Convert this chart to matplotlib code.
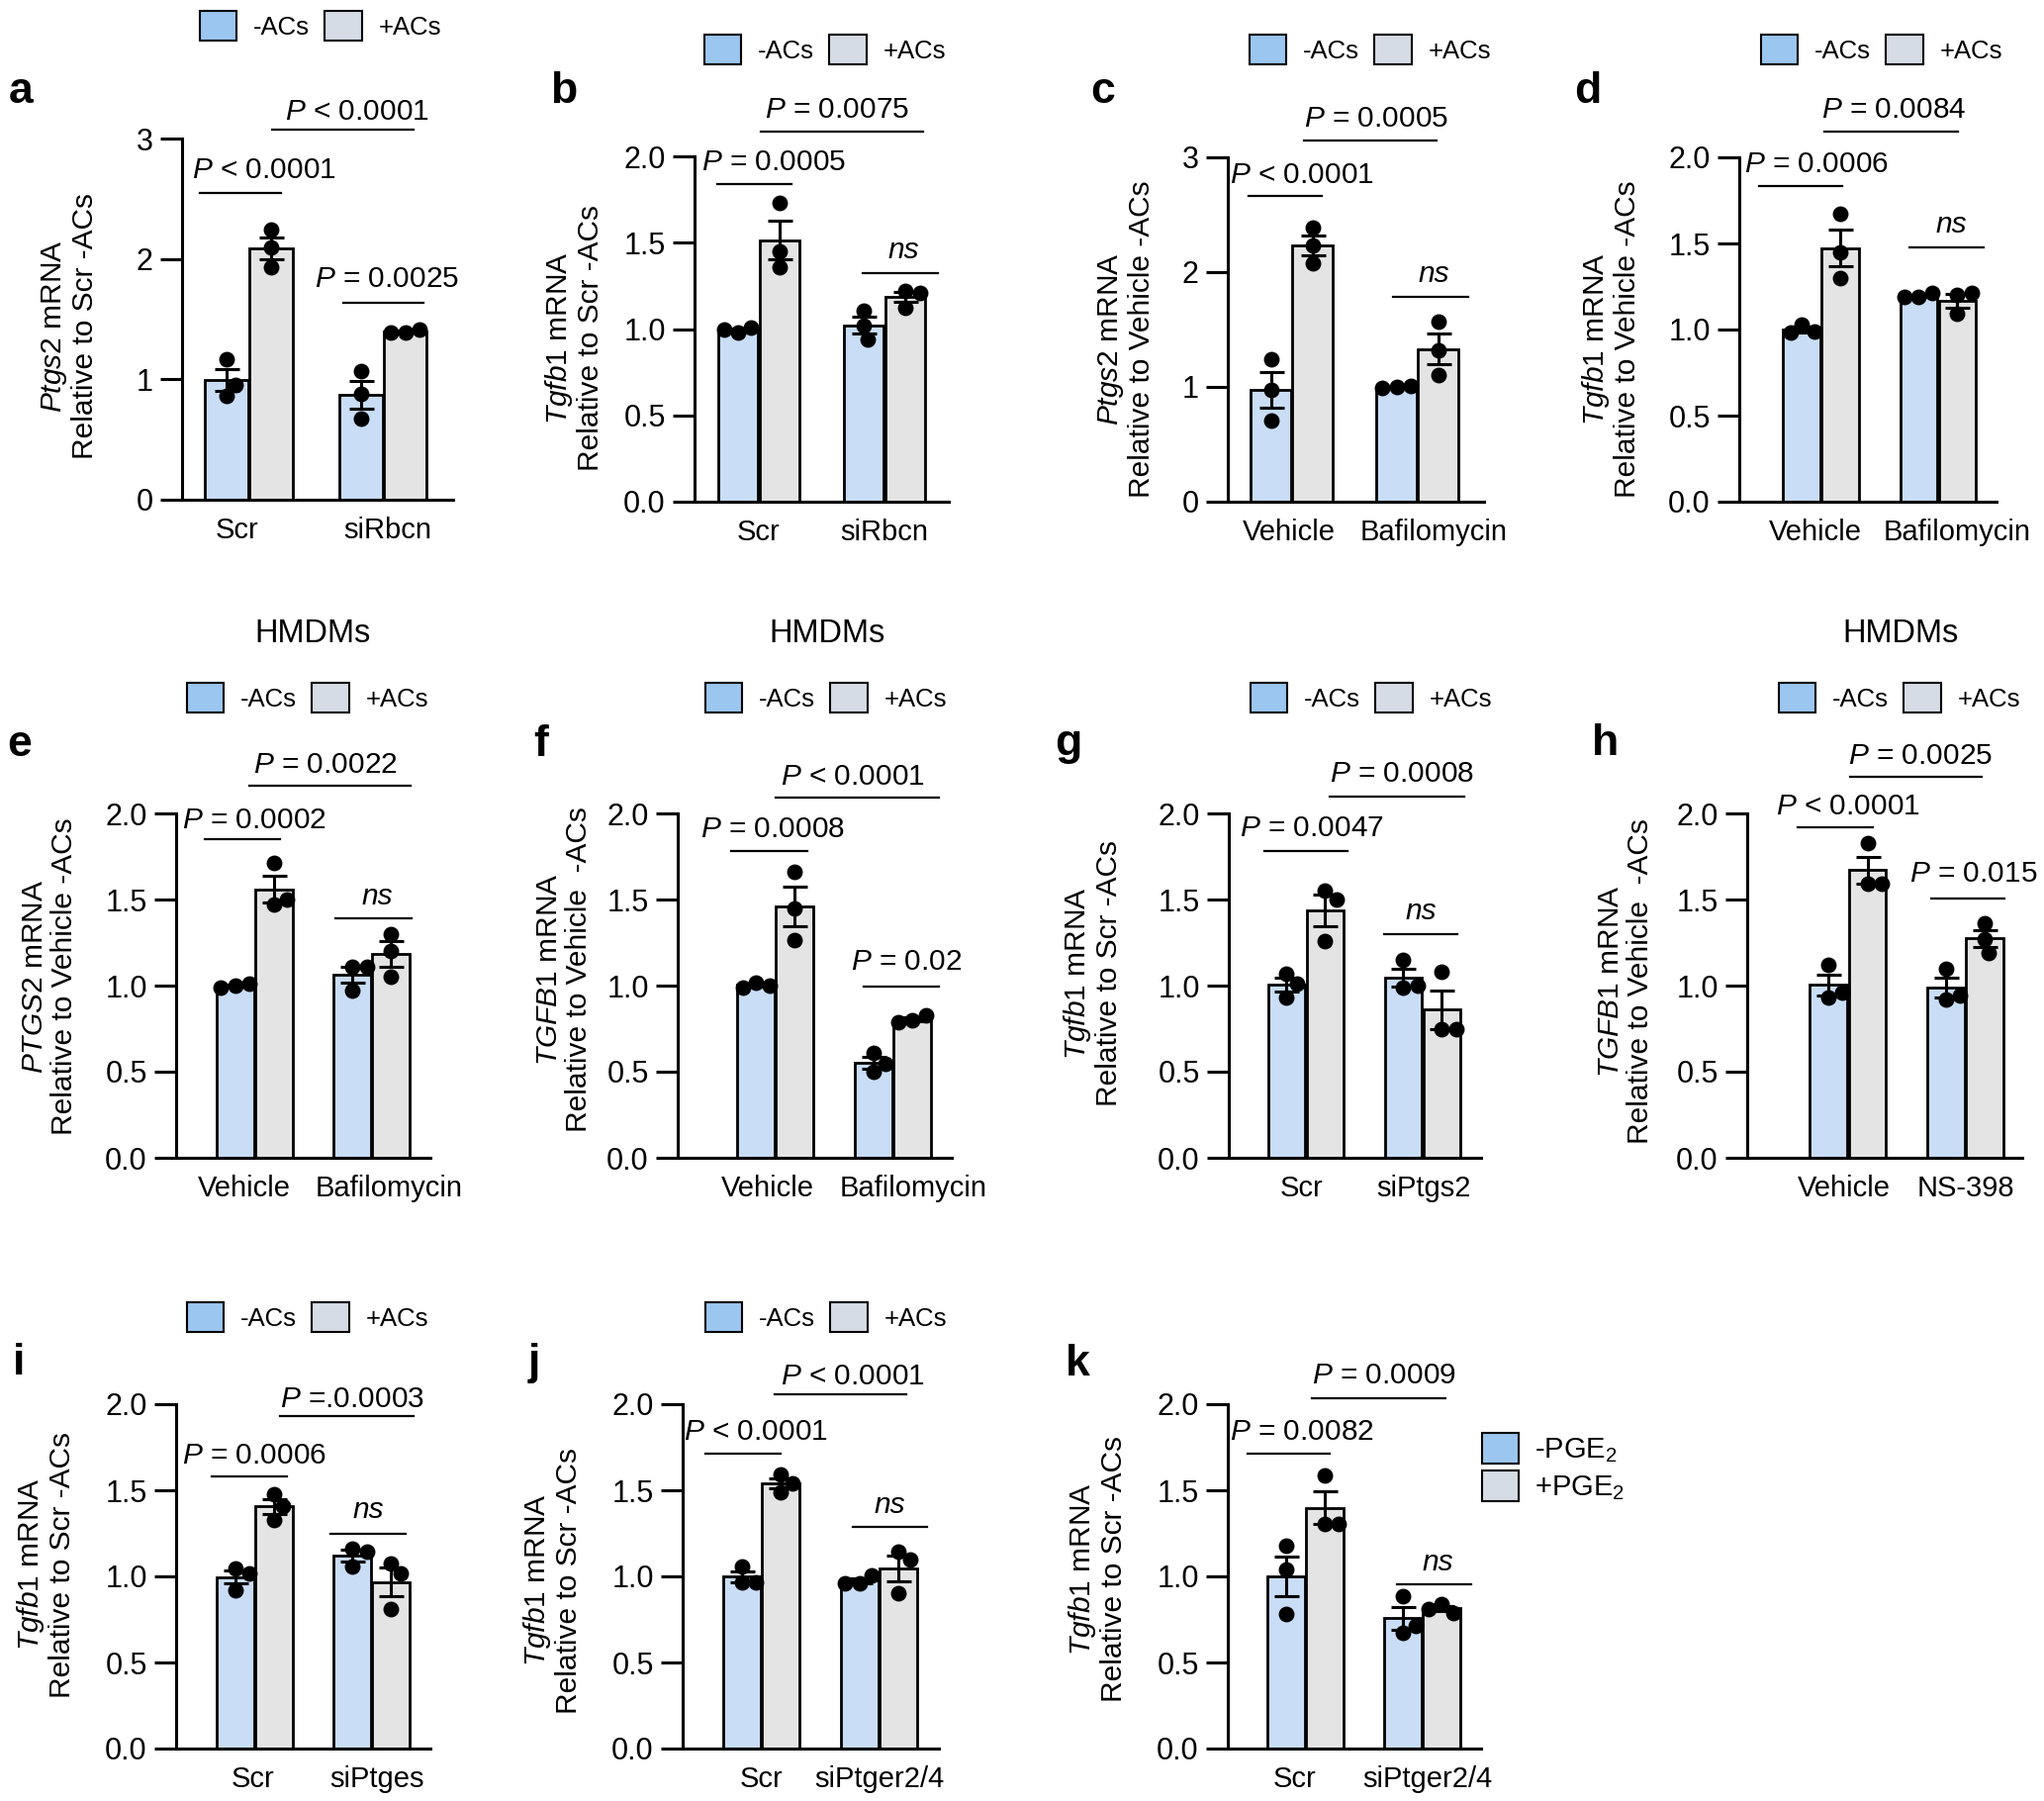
import math
import matplotlib
matplotlib.use("Agg")
import matplotlib.pyplot as plt
from matplotlib.patches import Patch
from matplotlib.lines import Line2D
import numpy as np

plt.rcParams['font.family'] = ['Liberation Sans', 'DejaVu Sans']
plt.rcParams['mathtext.fontset'] = 'custom'
plt.rcParams['mathtext.rm'] = 'Liberation Sans'
plt.rcParams['mathtext.it'] = 'Liberation Sans:italic'
plt.rcParams['mathtext.bf'] = 'Liberation Sans:bold'

# ---------------- data ----------------
a_categories = ["Scr", "siRbcn"]
a_neg = [[1.17, 0.86, 0.95], [1.07, 0.88, 0.67]]
a_pos = [[2.24, 2.10, 1.93], [1.39, 1.41, 1.39]]

b_categories = ["Scr", "siRbcn"]
b_neg = [[0.98, 1.01, 1.00], [1.105, 1.02, 0.94]]
b_pos = [[1.73, 1.45, 1.36], [1.22, 1.21, 1.125]]

c_categories = ["Vehicle", "Bafilomycin"]
c_neg = [[1.24, 0.97, 0.71], [1.00, 1.01, 0.99]]
c_pos = [[2.39, 2.23, 2.08], [1.57, 1.32, 1.10]]

d_categories = ["Vehicle", "Bafilomycin"]
d_neg = [[1.03, 0.99, 0.98], [1.19, 1.21, 1.19]]
d_pos = [[1.67, 1.45, 1.30], [1.20, 1.21, 1.09]]

e_categories = ["Vehicle", "Bafilomycin"]
e_neg = [[1.00, 1.01, 0.99], [1.11, 1.11, 0.97]]
e_pos = [[1.71, 1.47, 1.50], [1.30, 1.20, 1.05]]

f_categories = ["Vehicle", "Bafilomycin"]
f_neg = [[1.02, 1.00, 0.99], [0.61, 0.50, 0.545]]
f_pos = [[1.66, 1.45, 1.265], [0.80, 0.83, 0.79]]

g_categories = ["Scr", "siPtgs2"]
g_neg = [[1.07, 1.01, 0.93], [1.15, 0.99, 1.00]]
g_pos = [[1.55, 1.50, 1.26], [1.08, 0.75, 0.75]]

h_categories = ["Vehicle", "NS-398"]
h_neg = [[1.12, 0.93, 0.96], [1.10, 0.92, 0.94]]
h_pos = [[1.83, 1.59, 1.59], [1.36, 1.27, 1.19]]

i_categories = ["Scr", "siPtges"]
i_neg = [[1.047, 1.02, 0.92], [1.16, 1.146, 1.057]]
i_pos = [[1.477, 1.41, 1.33], [1.077, 1.017, 0.81]]

j_categories = ["Scr", "siPtger2/4"]
j_neg = [[1.057, 0.968, 0.968], [0.96, 1.007, 0.958]]
j_pos = [[1.59, 1.49, 1.54], [1.146, 1.098, 0.90]]

k_categories = ["Scr", "siPtger2/4"]
k_neg = [[1.18, 1.04, 0.78], [0.883, 0.673, 0.713]]
k_pos = [[1.587, 1.305, 1.305], [0.84, 0.79, 0.81]]

ac_labels = ["-ACs", "+ACs"]
pge_labels = ["-PGE$_2$", "+PGE$_2$"]

# ---------------- layout / style ----------------
W, H = 2066, 1820
BAR_NEG = "#C9DDF7"
BAR_POS = "#E4E4E4"
LEG_NEG = "#9BC6EF"
LEG_POS = "#D6DCE5"
BAR_W = 0.32
OFF = 0.165
DOT_PX = 14.5
P_FS = 21.5
LEG_FS = 18.5

fig = plt.figure(figsize=(W / 100, H / 100), dpi=100)


def fx(x):
    return x / W


def fy(y):
    return 1 - y / H


def swarm(vals, ppx, ppy, d):
    placed = []
    out = []
    for v in vals:
        y = v * ppy
        cands = [0.0]
        for (px, py) in placed:
            dy = abs(y - py)
            if dy < d:
                s = math.sqrt(d * d - dy * dy)
                cands += [px + s, px - s]
        cands.sort(key=abs)
        chosen = cands[-1]
        for c in cands:
            if all((c - px) ** 2 + (y - py) ** 2 >= d * d * 0.999 for px, py in placed):
                chosen = c
                break
        placed.append((chosen, y))
        out.append(chosen / ppx)
    return out


def panel(key, cats, neg, pos, ymax, box, xlim, gene, rel, ylab_xy,
          legend_xy, letter_xy, brackets, label_shift=(0, 0),
          legend_labels=ac_labels, legend_vertical=False, title_xy=None):
    left, right, top, bottom = box
    ax = fig.add_axes([fx(left), fy(bottom), (right - left) / W, (bottom - top) / H])
    ax.set_xlim(*xlim)
    ax.set_ylim(0, ymax)
    ppx = (right - left) / (xlim[1] - xlim[0])
    ppy = (bottom - top) / ymax
    groups = np.arange(len(cats))
    for series, off, col in ((neg, -OFF, BAR_NEG), (pos, OFF, BAR_POS)):
        means = [np.mean(s) for s in series]
        sems = [np.std(s, ddof=1) / np.sqrt(len(s)) for s in series]
        xs = groups + off
        ax.bar(xs, means, width=BAR_W, color=col, edgecolor='black',
               linewidth=2.0, zorder=2)
        ax.errorbar(xs, means, yerr=sems, fmt='none', ecolor='black',
                    elinewidth=2.2, capsize=9, capthick=2.2, zorder=3)
        for xc, s in zip(xs, series):
            dx = swarm(s, ppx, ppy, DOT_PX)
            ax.plot(xc + np.array(dx), s, 'o', color='black',
                    markersize=DOT_PX / 1.389, zorder=4, clip_on=False)
    for sp in ('top', 'right'):
        ax.spines[sp].set_visible(False)
    for sp in ('left', 'bottom'):
        ax.spines[sp].set_linewidth(2.2)
    if ymax == 3:
        yt = [0, 1, 2, 3]
        ax.set_yticks(yt)
        ax.set_yticklabels([str(t) for t in yt])
    else:
        yt = [0.0, 0.5, 1.0, 1.5, 2.0]
        ax.set_yticks(yt)
        ax.set_yticklabels(["%.1f" % t for t in yt])
    ax.tick_params(axis='y', length=16, width=2.2, pad=5, labelsize=22)
    # category labels (no tick marks; nudged apart like the original)
    ax.set_xticks(groups + np.array(label_shift) / ppx)
    ax.set_xticklabels(cats)
    ax.tick_params(axis='x', length=0, pad=12, labelsize=21)

    # y label
    fig.text(fx(ylab_xy[0]), fy(ylab_xy[1]),
             r"$\it{%s}$ mRNA" % gene + "\n" + rel,
             rotation=90, ha='center', va='center', fontsize=21.5,
             multialignment='center', linespacing=1.05)
    # legend
    handles = [Patch(facecolor=LEG_NEG, edgecolor='black', linewidth=1.5, label=legend_labels[0]),
               Patch(facecolor=LEG_POS, edgecolor='black', linewidth=1.5, label=legend_labels[1])]
    if legend_vertical:
        fig.legend(handles=handles, loc='center left',
                   bbox_to_anchor=(fx(legend_xy[0]), fy(legend_xy[1])),
                   ncol=1, frameon=False, fontsize=21,
                   handlelength=1.27, handleheight=1.27, handletextpad=0.55,
                   labelspacing=0.22, borderpad=0, borderaxespad=0)
    else:
        fig.legend(handles=handles, loc='center left',
                   bbox_to_anchor=(fx(legend_xy[0]), fy(legend_xy[1])),
                   ncol=2, frameon=False, fontsize=LEG_FS,
                   handlelength=1.45, handleheight=1.45, handletextpad=0.65,
                   columnspacing=0.6, borderpad=0, borderaxespad=0)
    # letter
    fig.text(fx(letter_xy[0]), fy(letter_xy[1]), key, fontsize=32,
             fontweight='bold', va='baseline', ha='left')
    if title_xy is not None:
        fig.text(fx(title_xy[0]), fy(title_xy[1]), "HMDMs", ha='center',
                 va='center', fontsize=23.5)
    # significance brackets (figure pixel coordinates)
    for (x0, x1, ly, txt, tx, ty) in brackets:
        fig.add_artist(Line2D([fx(x0), fx(x1)], [fy(ly), fy(ly)],
                              transform=fig.transFigure, color='black', lw=1.6))
        if txt == "ns":
            fig.text(fx(tx), fy(ty + 8), "ns", ha='center', va='baseline',
                     fontsize=P_FS, style='italic')
        else:
            rest = txt[1:]
            fig.text(fx(tx), fy(ty + 10), r"$\it{P}$" + rest, ha='center',
                     va='baseline', fontsize=P_FS)
    return ax


panel('a', a_categories, a_neg, a_pos, 3, (184, 458, 140, 505), (-0.496, 1.52),
      'Ptgs2', 'Relative to Scr -ACs', (70, 330), (202, 26), (9, 104),
      [(275, 418, 131, "P < 0.0001", 361, 111),
       (202, 284, 195, "P < 0.0001", 267, 170),
       (347, 428, 306, "P = 0.0025", 391, 280)], label_shift=(-12, 4))

panel('b', b_categories, b_neg, b_pos, 2, (702, 959, 158, 507), (-0.51, 1.51),
      'Tgfb1', 'Relative to Scr -ACs', (580, 342), (712, 50), (556, 104),
      [(769, 933, 133, "P = 0.0075", 846, 109),
       (725, 800, 186, "P = 0.0005", 782, 162),
       (872, 948, 276, "ns", 913, 253)])

panel('c', c_categories, c_neg, c_pos, 3, (1241, 1500, 159, 507), (-0.51, 1.53),
      'Ptgs2', 'Relative to Vehicle -ACs', (1138, 343), (1263, 50), (1102, 104),
      [(1318, 1452, 142, "P = 0.0005", 1391, 118),
       (1262, 1336, 198, "P < 0.0001", 1316, 175),
       (1408, 1484, 300, "ns", 1449, 277)], label_shift=(-3, 16))

panel('d', d_categories, d_neg, d_pos, 2, (1758, 2018, 159, 507), (-0.70, 1.50),
      'Tgfb1', 'Relative to Vehicle -ACs', (1628, 343), (1780, 50), (1591, 104),
      [(1844, 1979, 133, "P = 0.0084", 1914, 109),
       (1778, 1862, 188, "P = 0.0006", 1836, 164),
       (1930, 2005, 250, "ns", 1972, 227)], label_shift=(-6, 19))

panel('e', e_categories, e_neg, e_pos, 2, (178, 435, 822, 1170), (-0.67, 1.50),
      'PTGS2', 'Relative to Vehicle -ACs', (50, 987), (189, 705), (7, 764),
      [(252, 415, 794, "P = 0.0022", 329, 771),
       (207, 283, 848, "P = 0.0002", 257, 827),
       (339, 416, 928, "ns", 381, 906)], label_shift=(-10, 17),
      title_xy=(316, 640))

panel('f', f_categories, f_neg, f_pos, 2, (685, 962, 822, 1170), (-0.83, 1.50),
      'TGFB1', 'Relative to Vehicle  -ACs', (570, 980), (713, 705), (539, 764),
      [(784, 949, 806, "P < 0.0001", 862, 783),
       (739, 816, 860, "P = 0.0008", 781, 836),
       (873, 949, 997, "P = 0.02", 916, 970)], label_shift=(-8, 21),
      title_xy=(836, 640))

panel('g', g_categories, g_neg, g_pos, 2, (1242, 1497, 822, 1170), (-0.66, 1.50),
      'Tgfb1', 'Relative to Scr -ACs', (1104, 984), (1264, 705), (1066, 763),
      [(1344, 1480, 805, "P = 0.0008", 1417, 780),
       (1278, 1362, 860, "P = 0.0047", 1326, 835),
       (1399, 1473, 944, "ns", 1436, 921)], label_shift=(-4, 1))

panel('h', h_categories, h_neg, h_pos, 2, (1766, 2044, 822, 1170), (-0.86, 1.485),
      'TGFB1', 'Relative to Vehicle  -ACs', (1643, 992), (1798, 705), (1609, 763),
      [(1870, 2003, 785, "P = 0.0025", 1941, 762),
       (1817, 1893, 836, "P < 0.0001", 1868, 813),
       (1952, 2026, 908, "P = 0.015", 1995, 881)], label_shift=(-4, 0),
      title_xy=(1921, 640))

panel('i', i_categories, i_neg, i_pos, 2, (178, 435, 1419, 1767), (-0.67, 1.50),
      'Tgfb1', 'Relative to Scr -ACs', (46, 1581), (189, 1331), (13, 1389),
      [(283, 418, 1431, "P =.0.0003", 356, 1412),
       (214, 290, 1492, "P = 0.0006", 257, 1469),
       (334, 410, 1550, "ns", 372, 1526)], label_shift=(-2, 5))

panel('j', j_categories, j_neg, j_pos, 2, (690, 949, 1419, 1767), (-0.665, 1.506),
      'Tgfb1', 'Relative to Scr -ACs', (558, 1597), (713, 1331), (534, 1389),
      [(783, 916, 1409, "P < 0.0001", 862, 1389),
       (713, 789, 1469, "P < 0.0001", 764, 1445),
       (862, 937, 1543, "ns", 899, 1521)])

panel('k', k_categories, k_neg, k_pos, 2, (1241, 1497, 1419, 1767), (-0.66, 1.50),
      'Tgfb1', 'Relative to Scr -ACs', (1109, 1586), (1498, 1483), (1077, 1390),
      [(1326, 1461, 1413, "P = 0.0009", 1399, 1388),
       (1261, 1344, 1469, "P = 0.0082", 1316, 1445),
       (1412, 1487, 1601, "ns", 1453, 1579)], label_shift=(-11, 5),
      legend_labels=pge_labels, legend_vertical=True)

fig.savefig("out.png", dpi=100)
